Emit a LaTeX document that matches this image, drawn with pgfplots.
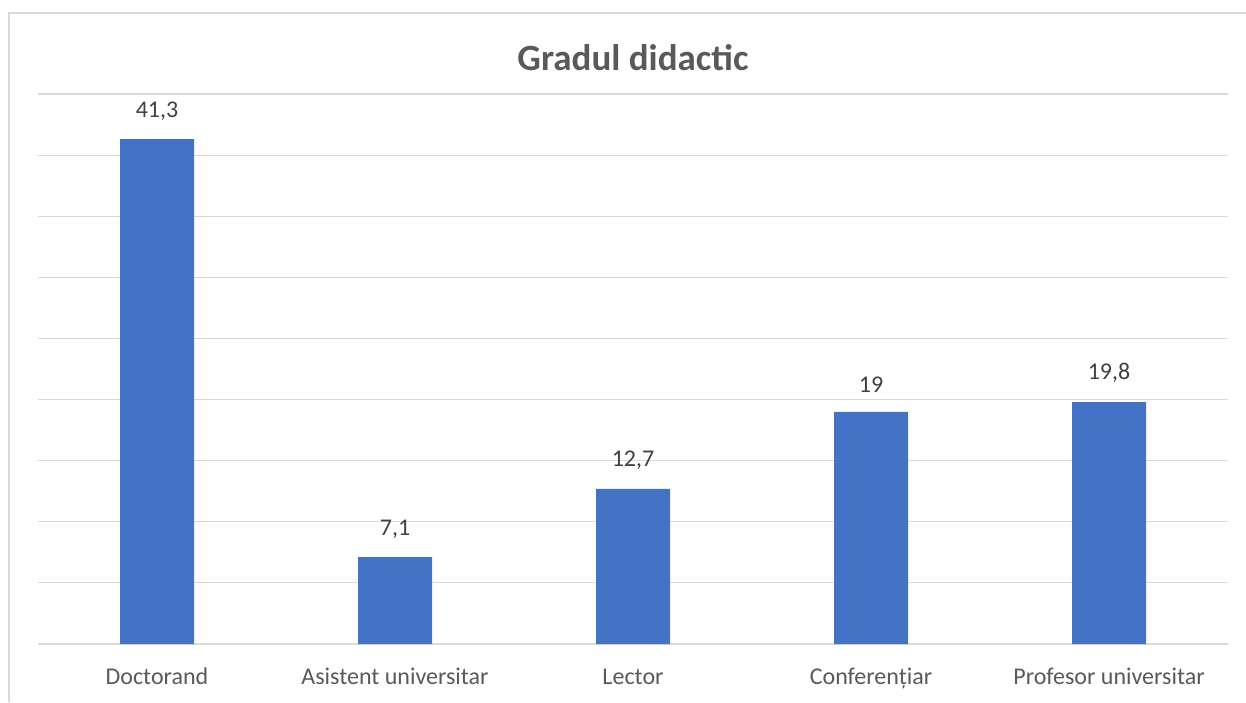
\documentclass[border=0pt]{standalone}
\usepackage{fontspec}
\setmainfont{Carlito}
\usepackage{pgfplots}
\pgfplotsset{compat=1.18}
\definecolor{barblue}{HTML}{4472C4}
\definecolor{txtgray}{HTML}{595959}
\definecolor{lblgray}{HTML}{404040}
\definecolor{gridgray}{HTML}{D9D9D9}
\begin{document}
\begin{tikzpicture}[x=0.5pt,y=0.5pt]
  \useasboundingbox (0,0) rectangle (1246,702);
  % chart frame (only top and left edges visible in the crop)
  \draw[gridgray, line width=1.2pt] (9,0) -- (9,689) -- (1246,689);
  \node[font=\fontsize{18.5}{20}\selectfont\bfseries, text=txtgray] at (633,644) {Gradul didactic};
  \begin{axis}[
      at={(19pt,29pt)}, anchor=south west,
      scale only axis,
      width=595pt, height=275pt,
      xmin=-0.5, xmax=4.5,
      ymin=0, ymax=45,
      ytick={0,5,...,45},
      yticklabels={},
      xtick=data,
      xticklabels={Doctorand, Asistent universitar, Lector, Conferențiar, Profesor universitar},
      xticklabel style={font=\fontsize{12}{14}\selectfont, text=txtgray, yshift=-8pt, text height=8.5pt, text depth=2.5pt},
      major tick length=0pt,
      ymajorgrids,
      grid style={gridgray, line width=0.6pt},
      axis x line*=bottom,
      x axis line style={draw=gridgray, line width=0.6pt, -},
      y axis line style={draw=none},
      ybar,
      bar width=37pt,
      nodes near coords={\pgfmathprintnumber{\pgfplotspointmeta}},
      nodes near coords style={font=\fontsize{12}{14}\selectfont, text=lblgray, yshift=6pt, /pgf/number format/.cd, use comma, fixed, precision=1, assume math mode=true},
    ]
    \addplot[fill=barblue, draw=none] coordinates {(0,41.3) (1,7.1) (2,12.7) (3,19) (4,19.8)};
  \end{axis}
\end{tikzpicture}
\end{document}
